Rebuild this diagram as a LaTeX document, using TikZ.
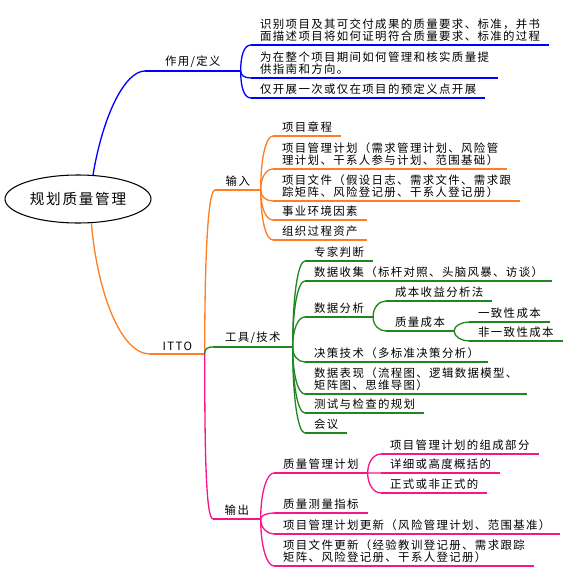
\documentclass[tikz,border=0pt]{standalone}
\usepackage{fontspec}
\usepackage{xcolor}
\usetikzlibrary{calc, shapes.geometric}
\newfontfamily\cjk[LetterSpace=12]{Noto Sans CJK SC}
\definecolor{mmblue}{RGB}{0,0,255}
\definecolor{mmorange}{RGB}{255,125,35}
\definecolor{mmgreen}{RGB}{30,135,30}
\definecolor{mmpink}{RGB}{250,20,140}

\begin{document}
\begin{tikzpicture}[x=0.02cm, y=-0.02cm,
    txt/.style={anchor=south west, inner xsep=5pt, inner ysep=1.7pt, align=left,
        font=\cjk\fontsize{6.5pt}{7pt}\selectfont},
    lbl/.style={txt, align=center},
    root/.style={ellipse, draw, line width=0.6pt, minimum width=2.92cm,
        minimum height=0.96cm, inner sep=0pt, font=\cjk\fontsize{8.3pt}{10pt}\selectfont},
    br/.style={line width=0.75pt}]
    \useasboundingbox (0,0) rectangle (566,588);

    % 中心主题
    \node[root] (root) at (78,199) {规划质量管理};

    % 作用/定义
    \node[lbl, minimum width=1.9cm] (def) at (145,71) {作用/定义};
    \node[txt] (d1) at (251,45) {识别项目及其可交付成果的质量要求、标准，并书\\面描述项目将如何证明符合质量要求、标准的过程};
    \node[txt] (d2) at (251,78) {为在整个项目期间如何管理和核实质量提\\供指南和方向。};
    \node[txt] (d3) at (251,98) {仅开展一次或仅在项目的预定义点开展};

    % ITTO
    \node[lbl, minimum width=1.08cm] (itto) at (150,354) {ITTO};
    \node[lbl, minimum width=0.9cm] (in) at (215,190) {输入};
    \node[lbl, minimum width=1.58cm] (tool) at (213,347) {工具/技术};
    \node[lbl, minimum width=0.94cm] (out) at (213,519) {输出};

    % 输入
    \node[txt] (i1) at (273,136) {项目章程};
    \node[txt] (i2) at (273,169) {项目管理计划（需求管理计划、风险管\\理计划、干系人参与计划、范围基础）};
    \node[txt] (i3) at (273,201) {项目文件（假设日志、需求文件、需求跟\\踪矩阵、风险登记册、干系人登记册）};
    \node[txt] (i4) at (273,220) {事业环境因素};
    \node[txt] (i5) at (273,240) {组织过程资产};

    % 工具/技术
    \node[txt] (t1) at (305,261) {专家判断};
    \node[txt] (t2) at (305,281) {数据收集（标杆对照、头脑风暴、访谈）};
    \node[txt] (t3) at (305,317) {数据分析};
    \node[txt] (t31) at (386,301) {成本收益分析法};
    \node[txt] (t32) at (386,331) {质量成本};
    \node[txt] (t321) at (469,322) {一致性成本};
    \node[txt] (t322) at (469,341) {非一致性成本};
    \node[txt] (t4) at (305,362) {决策技术（多标准决策分析）};
    \node[txt] (t5) at (305,394) {数据表现（流程图、逻辑数据模型、\\矩阵图、思维导图）};
    \node[txt] (t6) at (305,413) {测试与检查的规划};
    \node[txt] (t7) at (305,433) {会议};

    % 输出
    \node[txt] (o1) at (274,473) {质量管理计划};
    \node[txt] (o11) at (381,454) {项目管理计划的组成部分};
    \node[txt] (o12) at (381,473) {详细或高度概括的};
    \node[txt] (o13) at (381,493) {正式或非正式的};
    \node[txt] (o2) at (274,513) {质量测量指标};
    \node[txt] (o3) at (274,534) {项目管理计划更新（风险管理计划、范围基准）};
    \node[txt] (o4) at (274,566) {项目文件更新（经验教训登记册、需求跟踪\\矩阵、风险登记册、干系人登记册）};

    % 主干
    \draw[br, mmblue] (root.58) .. controls (103,115) and (125,71) .. (def.south west);
    \draw[br, mmorange] (root.-61) .. controls (97,290) and (120,354) .. (itto.south west);

    % 下划线
    \foreach \n/\c in {def/mmblue, d1/mmblue, d2/mmblue, d3/mmblue,
        itto/mmorange, in/mmorange, i1/mmorange, i2/mmorange, i3/mmorange, i4/mmorange, i5/mmorange,
        tool/mmgreen, t1/mmgreen, t2/mmgreen, t3/mmgreen, t31/mmgreen, t32/mmgreen, t321/mmgreen,
        t322/mmgreen, t4/mmgreen, t5/mmgreen, t6/mmgreen, t7/mmgreen,
        out/mmpink, o1/mmpink, o11/mmpink, o12/mmpink, o13/mmpink, o2/mmpink, o3/mmpink, o4/mmpink}
        \draw[br, \c] (\n.south west) -- (\n.south east);

    % 分支连线
    \foreach \f/\t/\c in {def/d1/mmblue, def/d2/mmblue, def/d3/mmblue,
        itto/in/mmorange, itto/tool/mmgreen, itto/out/mmpink,
        in/i1/mmorange, in/i2/mmorange, in/i3/mmorange, in/i4/mmorange, in/i5/mmorange,
        tool/t1/mmgreen, tool/t2/mmgreen, tool/t3/mmgreen, tool/t4/mmgreen, tool/t5/mmgreen,
        tool/t6/mmgreen, tool/t7/mmgreen, t3/t31/mmgreen, t3/t32/mmgreen, t32/t321/mmgreen, t32/t322/mmgreen,
        out/o1/mmpink, out/o2/mmpink, out/o3/mmpink, out/o4/mmpink, o1/o11/mmpink, o1/o12/mmpink, o1/o13/mmpink}
        \draw[br, \c] (\f.south east) .. controls ($(\f.south east)!0.6!(\f.south east|-\t.south west)$)
            and ($(\t.south west)+(-7,0)$) .. (\t.south west);
\end{tikzpicture}
\end{document}
